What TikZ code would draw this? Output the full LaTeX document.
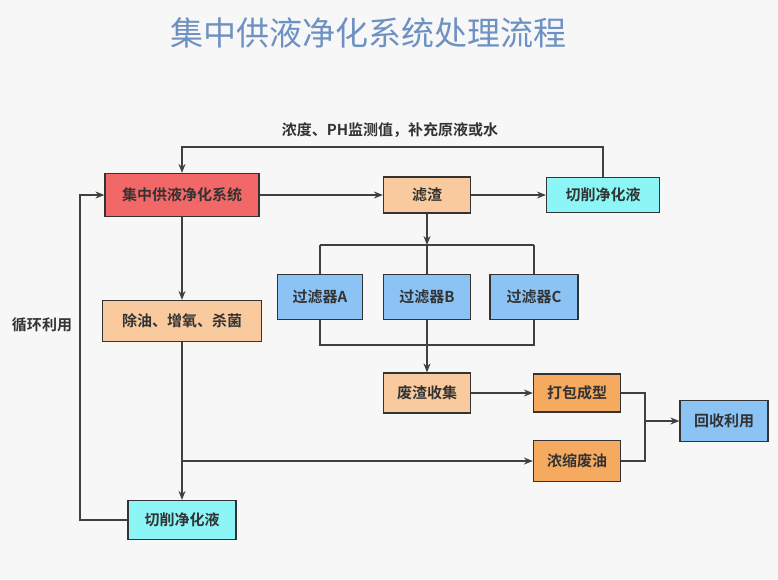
\documentclass[tikz,border=0pt]{standalone}
\usepackage{fontspec}
\setmainfont{Noto Sans CJK SC}[BoldFont={* Bold}]
\usetikzlibrary{arrows.meta}
\begin{document}
\begin{tikzpicture}[x=1pt,y=-1pt,
 bx/.style={draw=black!80,line width=1.2pt,font=\bfseries\fontsize{15}{17}\selectfont,text=black!80,inner sep=2pt},
 ln/.style={draw=black!75,line width=1.2pt},
 ar/.style={ln,-{Stealth[length=9pt,width=7pt]}}]
\fill[gray!6] (0,0) rectangle (778,579);
\useasboundingbox (0,0) rectangle (778,579);
\node[font=\fontsize{33}{36}\selectfont,text={rgb,255:red,110;green,145;blue,195}] (title) at (368,33) {集中供液净化系统处理流程};
\definecolor{cred}{RGB}{242,104,104}\definecolor{corg}{RGB}{248,202,158}
\definecolor{ccy}{RGB}{140,245,245}\definecolor{cbl}{RGB}{140,195,245}\definecolor{cdo}{RGB}{246,170,95}
\node[bx,fill=cred,minimum width=154pt,minimum height=43pt] (sys) at (182,195) {集中供液净化系统};
\node[bx,fill=corg,minimum width=87pt,minimum height=36pt] (lz) at (427,195) {滤渣};
\node[bx,fill=ccy,minimum width=113pt,minimum height=35pt] (qx1) at (603,195) {切削净化液};
\node[bx,fill=corg,minimum width=159pt,minimum height=41pt] (cy) at (182,321) {除油、增氧、杀菌};
\node[bx,fill=cbl,minimum width=85pt,minimum height=45pt] (fa) at (320,297) {过滤器A};
\node[bx,fill=cbl,minimum width=87pt,minimum height=45pt] (fb) at (427,297) {过滤器B};
\node[bx,fill=cbl,minimum width=88pt,minimum height=45pt] (fc) at (534,297) {过滤器C};
\node[bx,fill=corg,minimum width=87pt,minimum height=40pt] (fz) at (427,393) {废渣收集};
\node[bx,fill=cdo,minimum width=87pt,minimum height=38pt] (db) at (577,393) {打包成型};
\node[bx,fill=cdo,minimum width=87pt,minimum height=41pt] (ns) at (577,461) {浓缩废油};
\node[bx,fill=cbl,minimum width=88pt,minimum height=41pt] (hs) at (724,421) {回收利用};
\node[bx,fill=ccy,minimum width=108pt,minimum height=39pt] (qx2) at (182,520) {切削净化液};
\node[font=\bfseries\fontsize{15}{17}\selectfont,text=black!80] (lbl1) at (390,130) {浓度、PH监测值，补充原液或水};
\node[font=\bfseries\fontsize{15}{17}\selectfont,text=black!80] (lbl2) at (42,325) {循环利用};
\draw[ar] (qx1.north) -- ++(0,-30) -| (sys.north);
\draw[ar] (sys) -- (lz);
\draw[ar] (lz) -- (qx1);
\draw[ar] (sys) -- (cy);
\draw[ar] (lz.south) -- (427,245);
\draw[ln] (320,245) -- (534,245);
\draw[ln] (fa.north) -- (320,245); \draw[ln] (fb.north) -- (427,245); \draw[ln] (fc.north) -- (534,245);
\draw[ln] (fa.south) -- (320,345) -- (534,345) -- (fc.south);
\draw[ln] (fb.south) -- (427,345);
\draw[ar] (427,345) -- (fz.north);
\draw[ar] (fz) -- (db);
\draw[ar] (cy.south) -- (qx2.north);
\draw[ar] (182,461) -- (ns.west);
\draw[ln] (db.east) -- (645,393) -- (645,461) -- (ns.east);
\draw[ar] (645,421) -- (hs.west);
\draw[ar] (qx2.west) -- (80,520) -- (80,195) -- (sys.west);
\end{tikzpicture}
\end{document}
